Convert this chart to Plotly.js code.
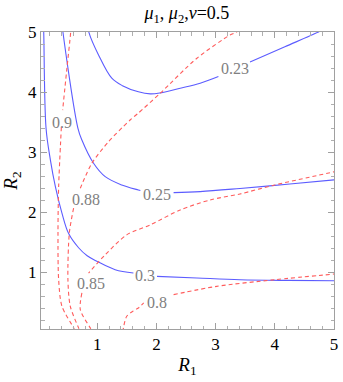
<!DOCTYPE html>
<html><head><meta charset="utf-8">
<script src="https://cdn.plot.ly/plotly-3.0.1.min.js"></script>
<style>html,body{margin:0;padding:0;background:#fff}</style>
</head><body>
<div id="chart" style="width:343px;height:382px"></div>
<script>
// Contour levels and their traced curves (R1, R2); null = gap where the label sits
const blueLevels = ["0.3", "0.25", "0.23"];
const blue03_x = [0.09, 0.096, 0.135, 0.209, 0.293, 0.404, 0.517, 0.685, 0.830, 1.000, 1.303, 1.611, null, 2.010, 2.684, 3.412, 4.2, 5.05];
const blue03_y = [5.1, 4.995, 3.399, 2.865, 2.423, 1.981, 1.640, 1.404, 1.270, 1.176, 1.038, 0.983, null, 0.927, 0.900, 0.872, 0.860, 0.854];
const blue025_x = [0.41, 0.421, 0.673, 0.741, 0.938, 1.135, 1.414, 1.695, 1.729, null, 2.290, 2.739, 3.412, 4.254, 5.05];
const blue025_y = [5.1, 4.995, 3.399, 3.199, 2.812, 2.589, 2.451, 2.367, 2.357, null, 2.323, 2.340, 2.392, 2.466, 2.540];
const blue023_x = [0.84, 0.859, 1.022, 1.246, 1.426, 1.695, 1.897, 2.066, 2.402, 2.739, 3.047, null, 3.581, 4.170, 4.726, 4.79];
const blue023_y = [5.1, 4.995, 4.618, 4.230, 4.105, 4.003, 3.969, 3.986, 4.063, 4.147, 4.259, null, 4.501, 4.754, 4.995, 5.03];

const redLevels = ["0.9", "0.88", "0.85", "0.8"];
const red09_x = [0.556, 0.551, 0.483, 0.416, null, 0.394, 0.348, 0.337, 0.348, 0.404, 0.601, 0.630];
const red09_y = [5.1, 4.995, 4.35, 3.698, null, 3.416, 2.418, 1.653, 0.872, 0.428, 0.069, 0.0];
const red088_x = [3.40, 3.345, 3.244, 2.684, 2.066, 1.695, 1.561, 1.443, 1.190, 0.909, 0.714, null, 0.601, 0.529, 0.505, 0.545, 0.685, 0.720];
const red088_y = [5.04, 4.995, 4.950, 4.563, 3.981, 3.649, 3.537, 3.427, 3.171, 2.812, 2.396, null, 2.064, 1.653, 0.872, 0.428, 0.069, 0.0];
const red085_x = [5.05, 4.001, 3.412, 2.907, 2.402, 1.897, 1.498, 1.135, 0.854, null, 0.741, 0.714, 0.882, 0.925];
const red085_y = [2.68, 2.451, 2.301, 2.201, 2.035, 1.785, 1.619, 1.288, 0.983, null, 0.651, 0.373, 0.069, 0.0];
const red08_x = [1.434, 1.443, 1.498, 1.60, 1.695, 1.785, null, 2.290, 3.020, 4.001, 5.05];
const red08_y = [0.0, 0.069, 0.262, 0.345, 0.401, 0.485, null, 0.623, 0.761, 0.872, 0.970];

// Contour label anchors (R1, R2)
const labelText = ["0.23", "0.25", "0.3", "0.9", "0.88", "0.85", "0.8"];
const labelX = [3.328, 2.015, 1.813, 0.402, 0.811, 0.900, 2.010];
const labelY = [4.397, 2.296, 0.937, 3.487, 2.202, 0.810, 0.495];

// Axis ticks
const tickVals = [1, 2, 3, 4, 5];
const tickText = ["1", "2", "3", "4", "5"];

const BLUE = "rgb(92,92,255)";
const RED = "rgb(255,92,92)";
const serif = "Liberation Serif";

const traces = [
  {x: blue03_x, y: blue03_y, name: blueLevels[0]},
  {x: blue025_x, y: blue025_y, name: blueLevels[1]},
  {x: blue023_x, y: blue023_y, name: blueLevels[2]}
].map(t => Object.assign(t, {type: "scatter", mode: "lines", connectgaps: false,
  line: {color: BLUE, width: 1.1, shape: "spline", smoothing: 1}, hoverinfo: "skip"}));

[
  {x: red09_x, y: red09_y, name: redLevels[0]},
  {x: red088_x, y: red088_y, name: redLevels[1]},
  {x: red085_x, y: red085_y, name: redLevels[2]},
  {x: red08_x, y: red08_y, name: redLevels[3]}
].forEach(t => traces.push(Object.assign(t, {type: "scatter", mode: "lines", connectgaps: false,
  line: {color: RED, width: 1.1, dash: "4px,3px", shape: "spline", smoothing: 0.8}, hoverinfo: "skip"})));

const annotations = labelText.map((s, i) => ({
  x: labelX[i], y: labelY[i], xref: "x", yref: "y", text: s, showarrow: false,
  font: {family: serif, size: 16, color: "rgb(128,128,128)"}, xanchor: "center", yanchor: "middle"
}));

const axisCommon = {
  showgrid: false, zeroline: false, showline: true, linecolor: "rgb(160,160,160)", linewidth: 1,
  mirror: "ticks", ticks: "inside", ticklen: 6, tickcolor: "rgb(160,160,160)", tickwidth: 1,
  tickvals: tickVals, ticktext: tickText,
  tickfont: {family: serif, size: 17, color: "#000"},
  minor: {ticks: "inside", ticklen: 3.5, dtick: 0.2, tick0: 0, tickcolor: "rgb(175,175,175)", tickwidth: 1}
};

const layout = {
  width: 343, height: 382,
  margin: {l: 41, r: 9, t: 32, b: 53},
  paper_bgcolor: "#fff", plot_bgcolor: "#fff",
  showlegend: false,
  font: {family: serif},
  title: {text: "<i>μ</i><sub>1</sub>, <i>μ</i><sub>2</sub>,<i>ν</i>=0.5", x: 0.545, xanchor: "center", y: 0.966, yanchor: "middle",
    font: {family: serif, size: 18, color: "#000"}},
  xaxis: Object.assign({}, axisCommon, {range: [0.05, 5],
    title: {text: "<i>R</i><sub>1</sub>", font: {family: serif, size: 19, color: "#000"}, standoff: 4}}),
  yaxis: Object.assign({}, axisCommon, {range: [0.05, 5],
    title: {text: "<i>R</i><sub>2</sub>", font: {family: serif, size: 19, color: "#000"}, standoff: 7}}),
  annotations: annotations
};

Plotly.newPlot("chart", traces, layout, {staticPlot: true, displayModeBar: false});
</script>
</body></html>
